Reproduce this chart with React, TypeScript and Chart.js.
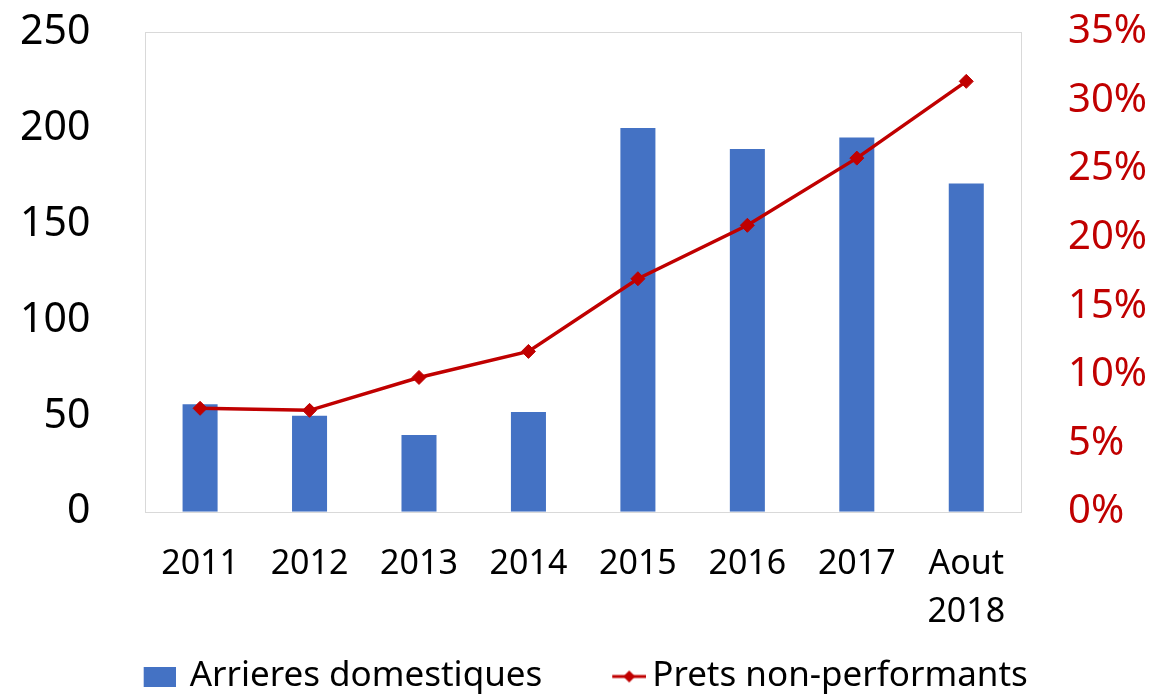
import React, { useEffect, useRef } from "react";
import { Chart, registerables } from "chart.js";

Chart.register(...registerables);

const categories: (string | string[])[] = ["2011", "2012", "2013", "2014", "2015", "2016", "2017", ["Aout", "2018"]];
const arrieresDomestiques: number[] = [56, 50, 40, 52, 200, 189, 195, 171];
const pretsNonPerformants: number[] = [7.55, 7.4, 9.8, 11.7, 17.0, 20.9, 25.8, 31.4];
const leftTicks: number[] = [0, 50, 100, 150, 200, 250];
const rightTicks: string[] = ["0%", "5%", "10%", "15%", "20%", "25%", "30%", "35%"];
const seriesNames: string[] = ["Arrieres domestiques", "Prets non-performants"];

const BLUE = "#4472C4";
const RED = "#C00000";
const FONT = "'Noto Sans', sans-serif";

function makeBarIcon(): HTMLCanvasElement {
  const c = document.createElement("canvas");
  c.width = 40;
  c.height = 20;
  const ctx = c.getContext("2d")!;
  ctx.fillStyle = BLUE;
  ctx.fillRect(8, 0, 32, 20);
  return c;
}

function makeLineIcon(): HTMLCanvasElement {
  const c = document.createElement("canvas");
  c.width = 56;
  c.height = 14;
  const ctx = c.getContext("2d")!;
  ctx.strokeStyle = RED;
  ctx.lineWidth = 3;
  ctx.beginPath();
  ctx.moveTo(22, 7);
  ctx.lineTo(56, 7);
  ctx.stroke();
  ctx.fillStyle = RED;
  ctx.beginPath();
  ctx.moveTo(39, 1);
  ctx.lineTo(45, 7);
  ctx.lineTo(39, 13);
  ctx.lineTo(33, 7);
  ctx.closePath();
  ctx.fill();
  return c;
}

const plotBorder = {
  id: "plotBorder",
  beforeDatasetsDraw(chart: any) {
    const { ctx, chartArea } = chart;
    ctx.save();
    ctx.strokeStyle = "#D9D9D9";
    ctx.lineWidth = 1;
    ctx.strokeRect(
      Math.round(chartArea.left) + 0.5,
      Math.round(chartArea.top) + 0.5,
      Math.round(chartArea.right - chartArea.left),
      Math.round(chartArea.bottom - chartArea.top)
    );
    ctx.restore();
  },
};

export default function App() {
  const ref = useRef<HTMLCanvasElement | null>(null);

  useEffect(() => {
    document.body.style.margin = "0";
    if (!ref.current) return;
    const barIcon = makeBarIcon();
    const lineIcon = makeLineIcon();
    const chart = new Chart(ref.current, {
      type: "bar",
      data: {
        labels: categories as any,
        datasets: [
          {
            type: "line",
            label: seriesNames[1],
            data: pretsNonPerformants,
            yAxisID: "y1",
            borderColor: RED,
            backgroundColor: RED,
            borderWidth: 3.5,
            pointStyle: "rectRot",
            pointRadius: 7,
            pointBackgroundColor: RED,
            pointBorderColor: RED,
            pointBorderWidth: 1,
            order: 0,
          } as any,
          {
            type: "bar",
            label: seriesNames[0],
            data: arrieresDomestiques,
            yAxisID: "y",
            backgroundColor: BLUE,
            barPercentage: 0.32,
            categoryPercentage: 1,
            order: 1,
          },
        ],
      },
      options: {
        animation: false,
        responsive: false,
        layout: { padding: { left: 20, right: 6, top: 32, bottom: 0 } },
        plugins: {
          tooltip: { enabled: false },
          legend: {
            position: "bottom",
            labels: {
              usePointStyle: true,
              pointStyleWidth: 33,
              boxWidth: 33,
              padding: 23,
              color: "#000",
              font: { family: FONT, size: 35 },
              generateLabels: () => [
                {
                  text: seriesNames[0] + "    ",
                  pointStyle: barIcon,
                  fillStyle: BLUE,
                  strokeStyle: BLUE,
                  lineWidth: 0,
                  hidden: false,
                  datasetIndex: 1,
                } as any,
                {
                  text: seriesNames[1],
                  pointStyle: lineIcon,
                  fillStyle: RED,
                  strokeStyle: RED,
                  lineWidth: 0,
                  hidden: false,
                  datasetIndex: 0,
                } as any,
              ],
            },
          },
        },
        scales: {
          x: {
            grid: { display: false, drawTicks: true, tickLength: 29 },
            border: { display: false },
            ticks: {
              color: "#000",
              padding: 0,
              maxRotation: 0,
              autoSkip: false,
              font: { family: FONT, size: 34, lineHeight: 1.4 },
            },
          },
          y: {
            position: "left",
            min: 0,
            max: 250,
            afterBuildTicks: (axis: any) => {
              axis.ticks = leftTicks.map((v) => ({ value: v }));
            },
            grid: { display: false, drawTicks: true, tickLength: 55 },
            border: { display: false },
            ticks: {
              color: "#000",
              padding: 0,
              font: { family: FONT, size: 41, lineHeight: 1.2 },
            },
          },
          y1: {
            position: "right",
            min: 0,
            max: 35,
            afterBuildTicks: (axis: any) => {
              axis.ticks = rightTicks.map((_, i) => ({ value: i * 5 }));
            },
            grid: { display: false, drawTicks: true, tickLength: 47 },
            border: { display: false },
            ticks: {
              color: RED,
              padding: 0,
              font: { family: FONT, size: 40, lineHeight: 1.2 },
              callback: (_v: any, i: number) => rightTicks[i],
            },
          },
        },
      },
      plugins: [plotBorder],
    });
    return () => chart.destroy();
  }, []);

  return (
    <div style={{ width: 1153, height: 704 }}>
      <canvas ref={ref} width={1153} height={704} style={{ display: "block" }} />
    </div>
  );
}
